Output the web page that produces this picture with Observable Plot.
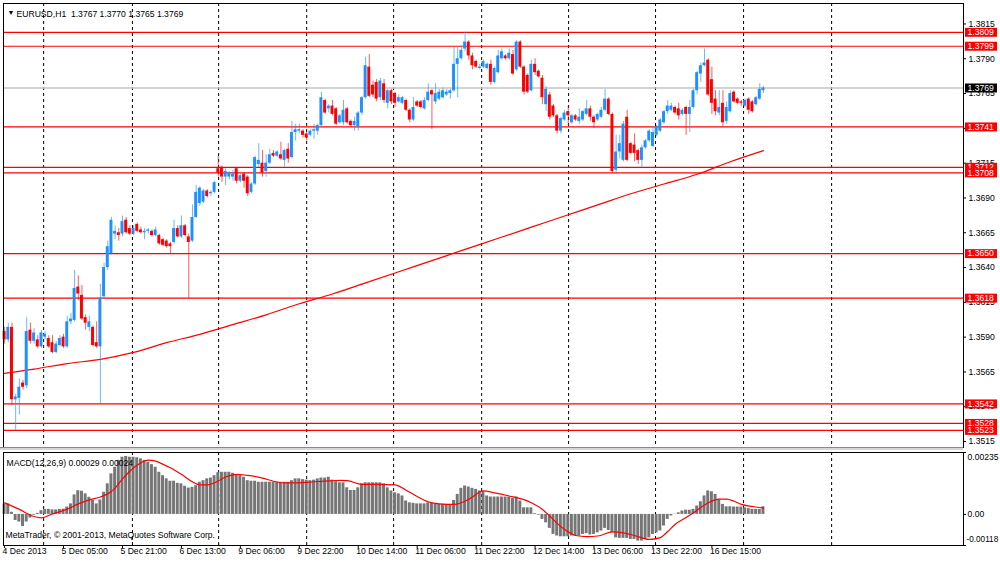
<!DOCTYPE html>
<html><head><meta charset="utf-8">
<script src="https://cdn.jsdelivr.net/npm/d3@7"></script>
<script src="https://cdn.jsdelivr.net/npm/@observablehq/plot@0.6"></script>
<style>
body{margin:0;background:#fff;}
#wrap{position:relative;width:1000px;height:562px;overflow:hidden;background:#fff;}
#main{position:absolute;left:0;top:0;}
#macd{position:absolute;left:0;top:450px;}
#sep{position:absolute;left:0;top:447px;width:963px;height:2px;border-top:1px solid #8a8a8a;border-bottom:1px solid #8a8a8a;background:#d6d6d6;}
</style></head><body>
<div id="wrap"><div id="main"></div><div id="sep"></div><div id="macd"></div></div>
<script>
// ---------------- data ----------------
const symbolTitle = "EURUSD,H1\u00a0\u00a01.3767 1.3770 1.3765 1.3769";
const macdTitle = "MACD(12,26,9) 0.00029 0.00024";
const copyright = "MetaTrader, \u00a9 2001-2013, MetaQuotes Software Corp.";

const open = [
1.3594,1.3588,1.3597,1.3545,1.3546,1.3557,1.3555,1.3595,1.3587,1.3588,
1.3583,1.3590,1.3589,1.3586,1.3579,1.3584,1.3590,1.3583,1.3601,1.3602,
1.3626,1.3620,1.3604,1.3597,1.3597,1.3586,1.3583,1.3619,1.3640,1.3650,
1.3664,1.3665,1.3664,1.3674,1.3668,1.3664,1.3671,1.3667,1.3665,1.3666,
1.3666,1.3663,1.3663,1.3660,1.3659,1.3657,1.3658,1.3668,1.3662,1.3670,
1.3662,1.3659,1.3676,1.3686,1.3687,1.3695,1.3693,1.3694,1.3711,1.3712,
1.3705,1.3705,1.3705,1.3711,1.3702,1.3707,1.3705,1.3694,1.3700,1.3714,
1.3715,1.3709,1.3715,1.3722,1.3720,1.3721,1.3717,1.3725,1.3719,1.3737,
1.3738,1.3738,1.3736,1.3735,1.3738,1.3738,1.3742,1.3760,1.3754,1.3756,
1.3754,1.3744,1.3744,1.3754,1.3745,1.3742,1.3741,1.3751,1.3762,1.3784,
1.3771,1.3773,1.3762,1.3772,1.3758,1.3767,1.3765,1.3759,1.3758,1.3760,
1.3753,1.3746,1.3759,1.3759,1.3754,1.3760,1.3767,1.3759,1.3761,1.3762,
1.3764,1.3765,1.3767,1.3786,1.3790,1.3797,1.3802,1.3792,1.3788,1.3783,
1.3784,1.3783,1.3786,1.3773,1.3780,1.3790,1.3792,1.3790,1.3793,1.3782,
1.3802,1.3784,1.3778,1.3767,1.3786,1.3781,1.3776,1.3757,1.3764,1.3756,
1.3749,1.3738,1.3746,1.3752,1.3744,1.3749,1.3745,1.3746,1.3750,1.3754,
1.3748,1.3746,1.3748,1.3753,1.3761,1.3750,1.3710,1.3723,1.3717,1.3748,
1.3729,1.3728,1.3724,1.3717,1.3726,1.3731,1.3727,1.3735,1.3738,1.3744,
1.3752,1.3753,1.3755,1.3754,1.3750,1.3755,1.3750,1.3755,1.3767,1.3779,
1.3785,1.3789,1.3775,1.3761,1.3751,1.3758,1.3745,1.3752,1.3766,1.3761,
1.3759,1.3756,1.3761,1.3759,1.3757,1.3761,1.3767];
const high = [
1.3597,1.3600,1.3600,1.3549,1.3560,1.3559,1.3604,1.3600,1.3596,1.3591,
1.3595,1.3594,1.3591,1.3591,1.3587,1.3591,1.3592,1.3605,1.3607,1.3638,
1.3634,1.3627,1.3606,1.3605,1.3598,1.3601,1.3628,1.3643,1.3659,1.3676,
1.3670,1.3668,1.3677,1.3676,1.3670,1.3670,1.3672,1.3669,1.3668,1.3668,
1.3667,1.3669,1.3664,1.3661,1.3660,1.3658,1.3674,1.3670,1.3677,1.3671,
1.3664,1.3685,1.3699,1.3698,1.3696,1.3696,1.3695,1.3702,1.3720,1.3713,
1.3711,1.3709,1.3710,1.3712,1.3707,1.3708,1.3706,1.3701,1.3720,1.3729,
1.3724,1.3721,1.3725,1.3724,1.3724,1.3730,1.3725,1.3729,1.3745,1.3743,
1.3743,1.3739,1.3737,1.3739,1.3743,1.3743,1.3766,1.3761,1.3757,1.3760,
1.3755,1.3750,1.3760,1.3755,1.3746,1.3748,1.3752,1.3763,1.3791,1.3793,
1.3774,1.3775,1.3776,1.3775,1.3768,1.3768,1.3766,1.3764,1.3763,1.3761,
1.3754,1.3762,1.3760,1.3760,1.3762,1.3772,1.3768,1.3772,1.3768,1.3769,
1.3768,1.3768,1.3798,1.3798,1.3799,1.3809,1.3803,1.3794,1.3789,1.3786,
1.3789,1.3787,1.3789,1.3784,1.3796,1.3797,1.3793,1.3797,1.3796,1.3803,
1.3803,1.3785,1.3779,1.3789,1.3790,1.3782,1.3778,1.3770,1.3766,1.3757,
1.3750,1.3748,1.3753,1.3756,1.3750,1.3750,1.3754,1.3753,1.3760,1.3756,
1.3749,1.3751,1.3755,1.3768,1.3762,1.3751,1.3735,1.3735,1.3745,1.3753,
1.3730,1.3736,1.3725,1.3728,1.3732,1.3739,1.3741,1.3742,1.3747,1.3753,
1.3760,1.3758,1.3756,1.3758,1.3754,1.3756,1.3760,1.3768,1.3781,1.3787,
1.3797,1.3790,1.3784,1.3767,1.3767,1.3767,1.3759,1.3767,1.3767,1.3762,
1.3760,1.3761,1.3762,1.3760,1.3763,1.3772,1.3770];
const low = [
1.3585,1.3586,1.3541,1.3523,1.3534,1.3552,1.3553,1.3585,1.3585,1.3582,
1.3582,1.3588,1.3582,1.3578,1.3578,1.3583,1.3582,1.3582,1.3599,1.3601,
1.3616,1.3602,1.3595,1.3594,1.3583,1.3582,1.3542,1.3617,1.3638,1.3649,
1.3660,1.3659,1.3662,1.3664,1.3663,1.3663,1.3665,1.3664,1.3660,1.3664,
1.3662,1.3662,1.3656,1.3655,1.3654,1.3650,1.3657,1.3661,1.3661,1.3662,
1.3618,1.3658,1.3675,1.3684,1.3686,1.3690,1.3691,1.3693,1.3705,1.3701,
1.3699,1.3703,1.3702,1.3700,1.3701,1.3697,1.3691,1.3693,1.3699,1.3712,
1.3705,1.3705,1.3714,1.3719,1.3719,1.3717,1.3712,1.3715,1.3718,1.3731,
1.3736,1.3733,1.3731,1.3734,1.3732,1.3735,1.3741,1.3750,1.3751,1.3749,
1.3742,1.3743,1.3742,1.3743,1.3741,1.3738,1.3738,1.3749,1.3761,1.3762,
1.3762,1.3759,1.3760,1.3758,1.3754,1.3757,1.3755,1.3758,1.3757,1.3752,
1.3744,1.3745,1.3755,1.3754,1.3753,1.3759,1.3739,1.3757,1.3760,1.3761,
1.3763,1.3761,1.3766,1.3762,1.3789,1.3795,1.3789,1.3782,1.3783,1.3782,
1.3783,1.3782,1.3771,1.3772,1.3779,1.3789,1.3789,1.3789,1.3778,1.3781,
1.3783,1.3764,1.3765,1.3766,1.3778,1.3776,1.3757,1.3752,1.3746,1.3748,
1.3736,1.3736,1.3745,1.3742,1.3743,1.3745,1.3743,1.3745,1.3749,1.3745,
1.3740,1.3745,1.3747,1.3752,1.3749,1.3708,1.3707,1.3718,1.3716,1.3716,
1.3721,1.3716,1.3714,1.3712,1.3725,1.3730,1.3726,1.3734,1.3737,1.3743,
1.3750,1.3752,1.3750,1.3746,1.3749,1.3735,1.3737,1.3754,1.3764,1.3773,
1.3784,1.3763,1.3750,1.3749,1.3749,1.3741,1.3743,1.3751,1.3758,1.3757,
1.3756,1.3755,1.3750,1.3751,1.3756,1.3760,1.3765];
const close = [
1.3588,1.3597,1.3545,1.3547,1.3554,1.3554,1.3594,1.3587,1.3593,1.3583,
1.3593,1.3592,1.3583,1.3579,1.3585,1.3589,1.3583,1.3601,1.3603,1.3625,
1.3621,1.3603,1.3600,1.3601,1.3584,1.3583,1.3618,1.3640,1.3655,1.3674,
1.3666,1.3663,1.3673,1.3665,1.3664,1.3668,1.3666,1.3665,1.3666,1.3667,
1.3663,1.3667,1.3657,1.3656,1.3655,1.3655,1.3668,1.3662,1.3670,1.3663,
1.3658,1.3676,1.3694,1.3697,1.3695,1.3691,1.3694,1.3701,1.3708,1.3705,
1.3709,1.3708,1.3707,1.3702,1.3706,1.3702,1.3693,1.3700,1.3719,1.3717,
1.3708,1.3715,1.3721,1.3720,1.3723,1.3718,1.3724,1.3718,1.3737,1.3739,
1.3739,1.3735,1.3733,1.3738,1.3739,1.3742,1.3762,1.3751,1.3756,1.3750,
1.3743,1.3749,1.3753,1.3744,1.3742,1.3745,1.3751,1.3762,1.3785,1.3763,
1.3764,1.3761,1.3774,1.3760,1.3767,1.3759,1.3758,1.3762,1.3762,1.3753,
1.3746,1.3755,1.3756,1.3755,1.3760,1.3766,1.3764,1.3765,1.3766,1.3767,
1.3766,1.3767,1.3786,1.3790,1.3796,1.3802,1.3792,1.3785,1.3784,1.3784,
1.3788,1.3786,1.3773,1.3783,1.3792,1.3795,1.3790,1.3794,1.3779,1.3802,
1.3784,1.3766,1.3766,1.3786,1.3780,1.3777,1.3762,1.3768,1.3748,1.3749,
1.3738,1.3747,1.3751,1.3749,1.3749,1.3746,1.3748,1.3752,1.3754,1.3748,
1.3744,1.3750,1.3753,1.3761,1.3750,1.3709,1.3723,1.3729,1.3743,1.3717,
1.3722,1.3722,1.3717,1.3726,1.3731,1.3738,1.3737,1.3741,1.3746,1.3752,
1.3756,1.3756,1.3751,1.3749,1.3753,1.3750,1.3755,1.3767,1.3780,1.3785,
1.3787,1.3764,1.3758,1.3752,1.3755,1.3744,1.3755,1.3765,1.3759,1.3758,
1.3758,1.3760,1.3753,1.3752,1.3762,1.3768,1.3769];

// moving average (red line), sampled at bars
const maBars   = [0,8,17,26,35,44,53,62,71,80,89,98,107,116,125,134,143,152,161,170,179,188,197,206];
const maValues = [1.3564,1.3567,1.3571,1.3574,1.3579,1.3586,1.3592,1.3599,1.3606,1.3614,1.3621,1.3629,1.3637,1.3645,1.3653,1.3661,1.3669,1.3677,1.3685,1.3693,1.3700,1.3707,1.3716,1.3724];

// horizontal levels and current bid
const levels = [1.3809,1.3799,1.3741,1.3712,1.3708,1.3650,1.3618,1.3542,1.3528,1.3523];
const bid = 1.3769;
const priceTicks = [1.3815,1.3790,1.3765,1.3740,1.3715,1.3690,1.3665,1.3640,1.3615,1.3590,1.3565,1.3540,1.3515];

// time axis
const timeTickBars = [0,16,32,48,64,80,96,112,128,144,160,176,192];
const timeLabels = ["4 Dec 2013","5 Dec 05:00","5 Dec 21:00","6 Dec 13:00","9 Dec 06:00","9 Dec 22:00","10 Dec 14:00","11 Dec 06:00","11 Dec 22:00","12 Dec 14:00","13 Dec 06:00","13 Dec 22:00","16 Dec 15:00"];
const daySeparators = [10.6,34.7,58.1,82.0,105.6,129.5,153.1,176.7,200.6,224.5];

// MACD histogram (one value per bar)
const macdHist = [
0.00040,0.00040,0.00008,-0.00023,-0.00029,-0.00046,-0.00029,-0.00014,-0.00003,0.00004,
0.00014,0.00019,0.00019,0.00017,0.00017,0.00019,0.00020,0.00028,0.00040,0.00074,
0.00090,0.00088,0.00078,0.00065,0.00053,0.00040,0.00055,0.00084,0.00116,0.00154,
0.00179,0.00205,0.00217,0.00220,0.00217,0.00217,0.00215,0.00211,0.00205,0.00198,
0.00189,0.00179,0.00160,0.00147,0.00135,0.00126,0.00126,0.00118,0.00116,0.00107,
0.00100,0.00103,0.00109,0.00122,0.00128,0.00135,0.00138,0.00147,0.00158,0.00160,
0.00160,0.00160,0.00156,0.00150,0.00147,0.00141,0.00128,0.00126,0.00126,0.00122,
0.00122,0.00122,0.00122,0.00122,0.00122,0.00122,0.00122,0.00122,0.00128,0.00135,
0.00135,0.00132,0.00130,0.00128,0.00130,0.00135,0.00138,0.00138,0.00141,0.00130,
0.00124,0.00120,0.00120,0.00101,0.00091,0.00091,0.00101,0.00116,0.00120,0.00120,
0.00120,0.00120,0.00120,0.00116,0.00101,0.00089,0.00082,0.00078,0.00070,0.00051,
0.00044,0.00042,0.00040,0.00040,0.00040,0.00044,0.00042,0.00038,0.00038,0.00038,
0.00038,0.00038,0.00053,0.00076,0.00099,0.00108,0.00104,0.00099,0.00095,0.00089,
0.00086,0.00070,0.00066,0.00066,0.00066,0.00066,0.00066,0.00066,0.00061,0.00066,
0.00051,0.00025,0.00025,0.00025,0.00003,-0.00003,-0.00019,-0.00032,-0.00053,-0.00076,
-0.00082,-0.00085,-0.00085,-0.00085,-0.00082,-0.00082,-0.00082,-0.00076,-0.00073,-0.00078,
-0.00076,-0.00070,-0.00063,-0.00053,-0.00061,-0.00070,-0.00089,-0.00091,-0.00091,-0.00091,
-0.00095,-0.00095,-0.00101,-0.00101,-0.00095,-0.00089,-0.00076,-0.00070,-0.00063,-0.00044,
-0.00019,-0.00006,0.00001,0.00006,0.00013,0.00016,0.00016,0.00019,0.00032,0.00048,
0.00070,0.00089,0.00086,0.00076,0.00057,0.00038,0.00029,0.00029,0.00028,0.00028,
0.00028,0.00025,0.00022,0.00019,0.00019,0.00019,0.00029];

// MACD signal line, sampled at bars
const signalBars   = [0,4,8,10,13,17,20,23,26,28,30,32,34,37,39,41,43,45,48,51,53,55,57,60,63,66,70,73,76,80,84,88,91,93,97,101,106,109,112,115,118,122,126,130,133,137,141,143,146,148,150,152,155,158,161,165,168,171,175,178,180,182,185,187,189,191,194,196,198,200,203,206];
const signalValues = [0.00044,0.00019,-0.00008,-0.00013,0.00002,0.00020,0.00040,0.00055,0.00066,0.00078,0.00100,0.00135,0.00164,0.00196,0.00206,0.00202,0.00190,0.00177,0.00152,0.00124,0.00112,0.00112,0.00120,0.00142,0.00152,0.00148,0.00138,0.00126,0.00120,0.00120,0.00124,0.00127,0.00129,0.00128,0.00114,0.00114,0.00112,0.00092,0.00068,0.00048,0.00040,0.00038,0.00057,0.00089,0.00082,0.00070,0.00056,0.00044,0.00019,-0.00006,-0.00034,-0.00057,-0.00080,-0.00084,-0.00082,-0.00066,-0.00070,-0.00080,-0.00095,-0.00088,-0.00065,-0.00038,-0.00012,0.00006,0.00026,0.00044,0.00058,0.00058,0.00050,0.00038,0.00030,0.00024];
const macdTicks = [0.00235, 0, -0.00118];
const macdTickLabels = ["0.00235", "0.00", "-0.00118"];

// ---------------- drawing ----------------
const BLUE = "#1e90ff", RED = "#ff0000";
const FONT = '"Liberation Sans", Arial, sans-serif';
const style = {fontFamily: FONT, fontSize: "8.6px", background: "white", overflow: "visible", color: "#000"};
const xDomain = [-0.3, 260.3];
const half = 0.4;

const bars = open.map((o, i) => ({i, o, h: high[i], l: low[i], c: close[i]}));
const upBars = bars.filter(d => d.c >= d.o);
const downBars = bars.filter(d => d.c < d.o);
const ma = maBars.map((b, k) => ({bar: b, value: maValues[k]}));
const hist = macdHist.map((v, i) => ({i, v}));
const signal = signalBars.map((b, k) => ({bar: b, value: signalValues[k]}));

const levelMarks = levels.flatMap(v => [
  Plot.ruleY([v], {insetLeft: 962, insetRight: -34, stroke: RED, strokeWidth: 9}),
  Plot.text([v], {y: d => d, frameAnchor: "right", dx: 4, textAnchor: "start", fill: "#fff", text: d => d.toFixed(4)})
]);

const main = Plot.plot({
  width: 1000, height: 450,
  marginLeft: 3, marginRight: 37, marginTop: 3, marginBottom: 3,
  x: {domain: xDomain, axis: null},
  y: {domain: [1.35107, 1.38297], axis: null},
  style,
  marks: [
    Plot.ruleX(daySeparators, {stroke: "#000", strokeDasharray: "3,3"}),
    Plot.ruleY(levels, {stroke: RED, strokeWidth: 1.2}),
    Plot.ruleY([bid], {stroke: "#c4c4c4", strokeWidth: 1.5}),
    Plot.line(ma, {x: "bar", y: "value", stroke: RED, strokeWidth: 1.2, curve: "monotone-x"}),
    Plot.ruleX(upBars, {x: "i", y1: "l", y2: "h", stroke: BLUE, strokeOpacity: 0.65}),
    Plot.ruleX(downBars, {x: "i", y1: "l", y2: "h", stroke: RED, strokeOpacity: 0.65}),
    Plot.rect(upBars, {x1: d => d.i - half, x2: d => d.i + half, y1: "o", y2: "c", fill: BLUE}),
    Plot.rect(downBars, {x1: d => d.i - half, x2: d => d.i + half, y1: "o", y2: "c", fill: RED}),
    Plot.frame({stroke: "#000"}),
    Plot.ruleY(priceTicks, {insetLeft: 960, insetRight: -3, stroke: "#000"}),
    Plot.text(priceTicks, {y: d => d, frameAnchor: "right", dx: 5, textAnchor: "start", fill: "#000", text: d => d.toFixed(4)}),
    ...levelMarks,
    Plot.ruleY([bid], {insetLeft: 962, insetRight: -34, stroke: "#000", strokeWidth: 9}),
    Plot.text([bid], {y: d => d, frameAnchor: "right", dx: 4, textAnchor: "start", fill: "#fff", text: d => d.toFixed(4)}),
    Plot.text(["\u25BC"], {frameAnchor: "top-left", dx: 4, dy: 7, fontSize: 7, text: d => d, textAnchor: "start", fill: "#000"}),
    Plot.text([symbolTitle], {frameAnchor: "top-left", dx: 13, dy: 7, text: d => d, textAnchor: "start", fill: "#000"})
  ]
});
document.getElementById("main").appendChild(main);

const macd = Plot.plot({
  width: 1000, height: 112,
  marginLeft: 3, marginRight: 37, marginTop: 2, marginBottom: 17,
  x: {domain: xDomain, axis: null},
  y: {domain: [-0.00118, 0.00235], axis: null},
  style,
  marks: [
    Plot.ruleX(daySeparators, {stroke: "#000", strokeDasharray: "3,3"}),
    Plot.rect(hist, {x1: d => d.i - half, x2: d => d.i + half, y1: 0, y2: "v", fill: "#767676"}),
    Plot.line(signal, {x: "bar", y: "value", stroke: RED, strokeWidth: 1.2, curve: "monotone-x"}),
    Plot.frame({stroke: "#000"}),
    Plot.ruleY(macdTicks, {insetLeft: 960, insetRight: -3, stroke: "#000"}),
    Plot.text([macdTicks[0]], {y: d => d, frameAnchor: "right", dx: 4, dy: 5, textAnchor: "start", fill: "#000", text: () => macdTickLabels[0]}),
    Plot.text([macdTicks[1]], {y: d => d, frameAnchor: "right", dx: 4, textAnchor: "start", fill: "#000", text: () => macdTickLabels[1]}),
    Plot.text([macdTicks[2]], {y: d => d, frameAnchor: "right", dx: 3, dy: -6, textAnchor: "start", fill: "#000", fontSize: 8.2, text: () => macdTickLabels[2]}),
    Plot.ruleX(timeTickBars, {x: d => d, insetTop: 93, insetBottom: -3, stroke: "#000"}),
    Plot.text(timeTickBars, {x: d => d, frameAnchor: "bottom", dy: 8, dx: -2, textAnchor: "start", fill: "#000", text: (d, i) => timeLabels[i]}),
    Plot.text([macdTitle], {frameAnchor: "top-left", dx: 3, dy: 7, textAnchor: "start", fill: "#000", text: d => d}),
    Plot.text([copyright], {frameAnchor: "bottom-left", dx: 2, dy: -8, textAnchor: "start", fill: "#000", text: d => d})
  ]
});
document.getElementById("macd").appendChild(macd);
</script>
</body></html>
